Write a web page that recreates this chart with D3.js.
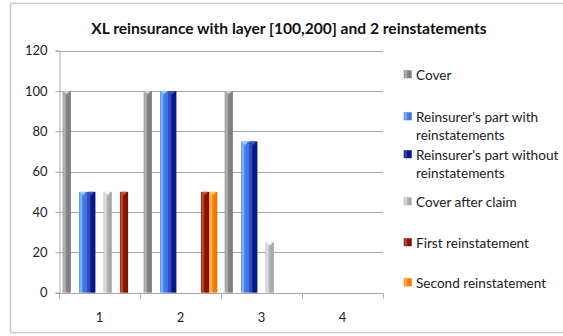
<!DOCTYPE html>
<html>
<head>
<meta charset="utf-8">
<script src="https://cdn.jsdelivr.net/npm/d3@7"></script>
<style>
  html, body { margin: 0; padding: 0; background: #fff; }
  svg { display: block; font-family: Lato, "Open Sans", sans-serif; }
</style>
</head>
<body>
<svg id="chart" width="563" height="336"></svg>
<script>
// Claims periods along the x axis
const categories = ["1", "2", "3", "4"];

// Series names as shown in the legend
const seriesNames = [
  "Cover",
  "Reinsurer's part with reinstatements",
  "Reinsurer's part without reinstatements",
  "Cover after claim",
  "First reinstatement",
  "Second reinstatement"
];

// Values per series, one per category
const cover               = [100, 100, 100, 0];
const partWithReinst      = [50, 100, 75, 0];
const partWithoutReinst   = [50, 100, 75, 0];
const coverAfterClaim     = [50, 0, 25, 0];
const firstReinstatement  = [50, 50, 0, 0];
const secondReinstatement = [0, 50, 0, 0];

const yTicks = [0, 20, 40, 60, 80, 100, 120];

const seriesValues = [cover, partWithReinst, partWithoutReinst, coverAfterClaim,
                      firstReinstatement, secondReinstatement];

// Base colours: [light edge, body]
const palette = [
  ["#b0b0b0", "#878787"],
  ["#7fb0ff", "#3f80f0"],
  ["#3447c0", "#08198f"],
  ["#dadada", "#b3b3b3"],
  ["#b44a32", "#8a1400"],
  ["#ffb055", "#ff8000"]
];

// Legend lines (wrapped)
const legendLines = [
  ["Cover"],
  ["Reinsurer's part with", "reinstatements"],
  ["Reinsurer's part without", "reinstatements"],
  ["Cover after claim"],
  ["First reinstatement"],
  ["Second reinstatement"]
];

const svg = d3.select("#chart");

// Outer chart frame
svg.append("rect")
  .attr("x", 10.5).attr("y", 3.5)
  .attr("width", 570).attr("height", 329)
  .attr("fill", "#fff")
  .attr("stroke", "#c9c9c9").attr("stroke-width", 1.5);

// Title
svg.append("text")
  .attr("x", 289).attr("y", 34)
  .attr("text-anchor", "middle")
  .attr("font-weight", "bold")
  .attr("font-size", 15.6)
  .attr("fill", "#111")
  .text("XL reinsurance with layer [100,200] and 2 reinstatements");

const plot = { left: 59, right: 383, top: 50.7, bottom: 292.7 };

const x0 = d3.scaleBand()
  .domain(categories)
  .range([plot.left, plot.right])
  .paddingInner(0).paddingOuter(0);

// Slots inside each category; blank slots leave the spacing between groups
const slots = ["s0", "gap1", "s1", "s2", "gap2", "s3", "gap3", "s4", "s5"];
const seriesSlot = ["s0", "s1", "s2", "s3", "s4", "s5"];
const x1 = d3.scaleBand()
  .domain(slots)
  .range([0, x0.bandwidth()])
  .paddingInner(0)
  .paddingOuter(0.45);

const y = d3.scaleLinear().domain([0, 120]).range([plot.bottom, plot.top]);

// Gradients giving the bars their rounded, shaded look
const defs = svg.append("defs");
palette.forEach((c, i) => {
  const g = defs.append("linearGradient")
    .attr("id", "grad" + i)
    .attr("x1", "0%").attr("x2", "100%").attr("y1", "0%").attr("y2", "0%");
  g.append("stop").attr("offset", "0%").attr("stop-color", c[1]);
  g.append("stop").attr("offset", "12%").attr("stop-color", c[0]);
  g.append("stop").attr("offset", "30%").attr("stop-color", c[0]);
  g.append("stop").attr("offset", "45%").attr("stop-color", c[1]);
  g.append("stop").attr("offset", "100%").attr("stop-color", d3.color(c[1]).darker(0.3));
});

// Gridlines
svg.append("g")
  .selectAll("line")
  .data(yTicks.filter(t => t > 0))
  .join("line")
  .attr("x1", plot.left).attr("x2", plot.right)
  .attr("y1", d => Math.round(y(d)) + 0.5).attr("y2", d => Math.round(y(d)) + 0.5)
  .attr("stroke", "#a9a9a9").attr("stroke-width", 1.2);

// Y axis
const yAxis = svg.append("g")
  .attr("transform", `translate(${plot.left + 0.5},0)`)
  .call(d3.axisLeft(y).tickValues(yTicks).tickSize(4).tickPadding(8));
yAxis.select(".domain").attr("stroke", "#a9a9a9");
yAxis.selectAll(".tick line").attr("stroke", "#a9a9a9");
yAxis.selectAll("text").attr("font-size", 13).attr("fill", "#222")
  .attr("font-family", "Lato, 'Open Sans', sans-serif");

// X axis with tick marks at category boundaries
const xAxisG = svg.append("g")
  .attr("transform", `translate(0,${Math.round(plot.bottom) + 0.5})`);
xAxisG.append("line")
  .attr("x1", plot.left).attr("x2", plot.right)
  .attr("stroke", "#a9a9a9").attr("stroke-width", 1.2);
const boundaries = categories.map(c => x0(c)).concat([x0(categories[categories.length - 1]) + x0.bandwidth()]);
xAxisG.selectAll("line.tk")
  .data(boundaries)
  .join("line")
  .attr("class", "tk")
  .attr("x1", d => Math.round(d) + 0.5).attr("x2", d => Math.round(d) + 0.5)
  .attr("y1", 0).attr("y2", 5)
  .attr("stroke", "#a9a9a9");
xAxisG.selectAll("text")
  .data(categories)
  .join("text")
  .attr("x", d => x0(d) + x0.bandwidth() / 2)
  .attr("y", 28)
  .attr("text-anchor", "middle")
  .attr("font-size", 13)
  .attr("fill", "#222")
  .text(d => d);

// Bars
const barData = [];
seriesValues.forEach((vals, si) => {
  vals.forEach((v, ci) => {
    if (v > 0) barData.push({ si, cat: categories[ci], v });
  });
});

const bars = svg.append("g").selectAll("g").data(barData).join("g");
bars.append("rect")
  .attr("x", d => x0(d.cat) + x1(seriesSlot[d.si]))
  .attr("y", d => y(d.v))
  .attr("width", x1.bandwidth())
  .attr("height", d => y(0) - y(d.v))
  .attr("fill", d => `url(#grad${d.si})`);
// Top cap highlight
bars.append("path")
  .attr("d", d => {
    const bx = x0(d.cat) + x1(seriesSlot[d.si]);
    const w = x1.bandwidth();
    const ty = y(d.v);
    return `M${bx + 1},${ty} L${bx + w - 1},${ty} L${bx + w / 2},${ty + 3.5} Z`;
  })
  .attr("fill", d => d3.color(palette[d.si][0]).brighter(0.6))
  .attr("opacity", 0.85);

// Legend
const legendY = [75, 117, 155, 202, 243, 283];
const legend = svg.append("g");
legendLines.forEach((lines, i) => {
  const g = legend.append("g").attr("transform", `translate(404,${legendY[i]})`);
  g.append("rect")
    .attr("x", 0).attr("y", -4.5)
    .attr("width", 7.5).attr("height", 7.5)
    .attr("fill", `url(#grad${i})`)
    .attr("stroke", palette[i][1]).attr("stroke-width", 0.5);
  lines.forEach((ln, j) => {
    g.append("text")
      .attr("x", 12).attr("y", j * 18)
      .attr("dy", "0.35em")
      .attr("font-size", 13.6)
      .attr("fill", "#222")
      .text(ln);
  });
});
</script>
</body>
</html>
